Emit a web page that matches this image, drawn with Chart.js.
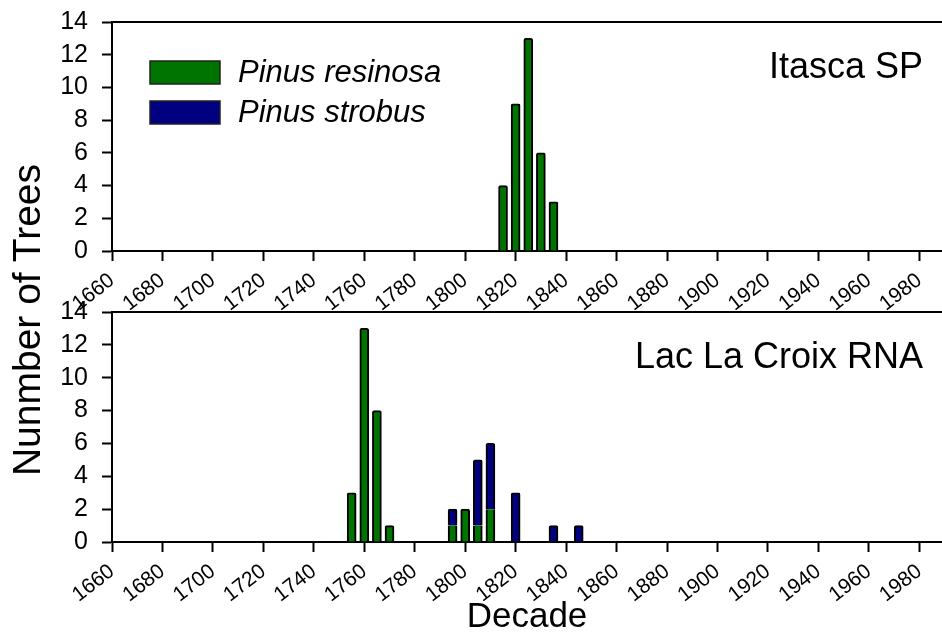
<!DOCTYPE html>
<html>
<head>
<meta charset="utf-8">
<script src="https://cdn.jsdelivr.net/npm/chart.js@4/dist/chart.umd.min.js"></script>
<style>
  html, body { margin: 0; padding: 0; background: #fff; }
  #wrap { position: relative; width: 942px; height: 635px; overflow: hidden; background: #fff; }
  canvas { position: absolute; left: 0; }
  #cTop { top: -8px; z-index: 2; }
  #cBot { top: 280px; z-index: 1; }
  #ytitle {
    position: absolute; left: -172px; top: 297px; width: 400px; height: 46px; z-index: 3;
    line-height: 46px; text-align: center; white-space: nowrap; color: #000;
    font: 39px "Liberation Sans", Arial, sans-serif; transform: rotate(-90deg);
  }
</style>
</head>
<body>
<div id="wrap">
  <canvas id="cBot" width="942" height="355"></canvas>
  <canvas id="cTop" width="942" height="345"></canvas>
  <div id="ytitle">Nunmber of Trees</div>
</div>
<script>
// Establishment decade (year) and number of trees per species, per site
const itascaDecades  = [1815, 1820, 1825, 1830, 1835];
const itascaResinosa = [4, 9, 13, 6, 3];
const itascaStrobus  = [0, 0, 0, 0, 0];

const lacDecades  = [1755, 1760, 1765, 1770, 1795, 1800, 1805, 1810, 1820, 1835, 1845];
const lacResinosa = [3, 13, 8, 1, 1, 2, 1, 2, 0, 0, 0];
const lacStrobus  = [0, 0, 0, 0, 1, 0, 4, 4, 3, 1, 1];

const speciesNames = ['Pinus resinosa', 'Pinus strobus'];
const siteNames = ['Itasca SP', 'Lac La Croix RNA'];

const decadeTicks = [1660, 1680, 1700, 1720, 1740, 1760, 1780, 1800, 1820,
                     1840, 1860, 1880, 1900, 1920, 1940, 1960, 1980];
const countTicks = [0, 2, 4, 6, 8, 10, 12, 14];
const axisStart = 1660, axisEnd = 1989;

const GREEN = '#007400';
const NAVY = '#000080';
const FONT = '"Liberation Sans", Arial, sans-serif';

function toPoints(xs, ys) {
  return xs.map((x, i) => ({ x: x, y: ys[i] })).filter(p => p.y > 0);
}

// Frame line along the top of the plotting area
const topFrame = {
  id: 'topFrame',
  afterDraw(chart) {
    const { ctx, chartArea: a } = chart;
    ctx.save();
    ctx.strokeStyle = '#000';
    ctx.lineWidth = 2;
    ctx.beginPath();
    ctx.moveTo(a.left, a.top);
    ctx.lineTo(a.right, a.top);
    ctx.stroke();
    ctx.restore();
  }
};

// Site name in the upper right corner of each panel
const siteLabel = {
  id: 'siteLabel',
  afterDraw(chart, args, opts) {
    const { ctx, chartArea: a } = chart;
    ctx.save();
    ctx.fillStyle = '#000';
    ctx.font = '36px ' + FONT;
    ctx.textAlign = 'right';
    ctx.textBaseline = 'alphabetic';
    ctx.fillText(opts.text, a.right - 19, a.top + 56);
    ctx.restore();
  }
};

// Species key drawn inside the upper panel
const speciesKey = {
  id: 'speciesKey',
  afterDraw(chart, args, opts) {
    if (!opts.show) return;
    const { ctx, chartArea: a } = chart;
    ctx.save();
    chart.data.datasets.forEach((ds, i) => {
      const bx = a.left + 38, by = a.top + 39 + i * 40;
      ctx.fillStyle = ds.backgroundColor;
      ctx.fillRect(bx, by, 70, 23);
      ctx.strokeStyle = '#222';
      ctx.lineWidth = 1.5;
      ctx.strokeRect(bx, by, 70, 23);
      ctx.fillStyle = '#000';
      ctx.font = 'italic 31px ' + FONT;
      ctx.textAlign = 'left';
      ctx.textBaseline = 'middle';
      ctx.fillText(ds.label, bx + 88, by + 12);
    });
    ctx.restore();
  }
};

function makePanel(canvasId, decades, resinosa, strobus, site, showKey, padTop, plotBottom, xTitle) {
  const canvas = document.getElementById(canvasId);
  const strobusAt = new Set(toPoints(decades, strobus).map(p => p.x));
  return new Chart(canvas, {
    type: 'bar',
    data: {
      datasets: [
        {
          label: speciesNames[0],
          data: toPoints(decades, resinosa),
          backgroundColor: GREEN,
          borderColor: '#000',
          borderWidth: ctx => (ctx.raw && strobusAt.has(ctx.raw.x))
            ? { top: 0, left: 2, right: 2, bottom: 0 } : 2,
          borderRadius: 2,
          barThickness: 9
        },
        {
          label: speciesNames[1],
          data: toPoints(decades, strobus),
          backgroundColor: NAVY,
          borderColor: '#000',
          borderWidth: 2,
          borderRadius: 2,
          barThickness: 9
        }
      ]
    },
    options: {
      responsive: false,
      animation: false,
      devicePixelRatio: 1,
      layout: { padding: { top: padTop, left: 0, right: 0, bottom: 0 } },
      plugins: {
        legend: { display: false },
        tooltip: { enabled: false },
        siteLabel: { text: site },
        speciesKey: { show: showKey }
      },
      scales: {
        x: {
          type: 'linear',
          stacked: true,
          min: axisStart,
          max: axisEnd,
          offset: false,
          afterBuildTicks: s => { s.ticks = decadeTicks.map(v => ({ value: v })); },
          afterFit: s => { s.height = canvas.height - plotBottom; },
          ticks: {
            autoSkip: false,
            minRotation: 38,
            maxRotation: 38,
            padding: 7,
            color: '#000',
            font: { family: FONT, size: 21 },
            callback: v => String(v)
          },
          grid: {
            offset: false,
            drawOnChartArea: false,
            drawTicks: true,
            tickLength: 10,
            tickWidth: 2,
            tickColor: '#000'
          },
          border: { display: true, color: '#000', width: 2 },
          // The upper panel keeps an empty title row so its label band is as deep as the lower one
          title: {
            display: true,
            text: xTitle || '',
            color: '#000',
            font: { family: FONT, size: 35, lineHeight: 1.0 },
            padding: { top: 0, bottom: 0 }
          }
        },
        y: {
          stacked: true,
          min: 0,
          max: 14,
          afterBuildTicks: s => { s.ticks = countTicks.map(v => ({ value: v })); },
          afterFit: s => { s.width = 112; },
          ticks: {
            autoSkip: false,
            padding: 14,
            color: '#000',
            font: { family: FONT, size: 25 }
          },
          grid: {
            drawOnChartArea: false,
            drawTicks: true,
            tickLength: 10,
            tickWidth: 2,
            tickColor: '#000'
          },
          border: { display: true, color: '#000', width: 2 }
        }
      }
    },
    plugins: [topFrame, siteLabel, speciesKey]
  });
}

makePanel('cTop', itascaDecades, itascaResinosa, itascaStrobus, siteNames[0], true, 30, 259, null);
makePanel('cBot', lacDecades, lacResinosa, lacStrobus, siteNames[1], false, 32, 262, 'Decade');
</script>
</body>
</html>
